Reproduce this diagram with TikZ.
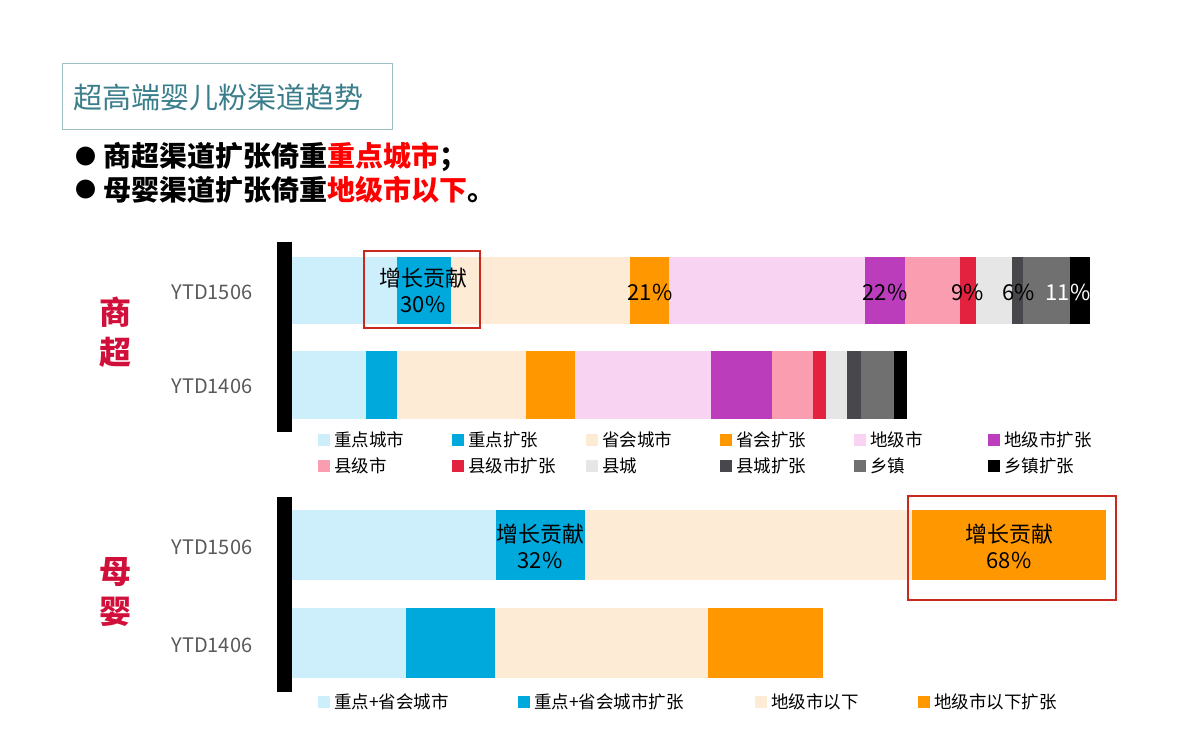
\documentclass[tikz,border=0pt]{standalone}
\usepackage{fontspec}
\setmainfont{Noto Sans CJK SC}
\definecolor{cA}{HTML}{CCEFFB}\definecolor{cB}{HTML}{00A9DC}
\definecolor{cC}{HTML}{FDEBD6}\definecolor{cD}{HTML}{FF9800}
\definecolor{cE}{HTML}{F8D4F2}\definecolor{cF}{HTML}{BB3DBB}
\definecolor{cG}{HTML}{FB9DB1}\definecolor{cH}{HTML}{E2223F}
\definecolor{cI}{HTML}{E6E6E6}\definecolor{cJ}{HTML}{48484C}
\definecolor{cK}{HTML}{707070}\definecolor{cL}{HTML}{000000}
\definecolor{ttl}{HTML}{3A7E8C}\definecolor{crim}{HTML}{D0103A}
\definecolor{boxred}{HTML}{C8281E}
\tikzset{lbl/.style={font=\fontsize{20}{24}\selectfont,text=black!65},
 leg/.style={font=\fontsize{17.5}{20}\selectfont,anchor=west,inner sep=0pt},
 inbar/.style={font=\fontsize{22}{26}\selectfont,align=center,inner sep=0pt},
 hl/.style={draw=boxred,line width=2pt}}
\begin{document}
\begin{tikzpicture}[x=1pt,y=-1pt]
\useasboundingbox (0,0) rectangle (1200,749);
% title
\node[draw=ttl!50,line width=1pt,minimum width=330pt,minimum height=66pt,anchor=north west,inner sep=0pt] (title) at (62,63) {};
\node[anchor=west,text=ttl,font=\fontsize{29}{32}\selectfont] at (70,97) {超高端婴儿粉渠道趋势};
\node[anchor=west,font=\fontsize{21}{24}\selectfont] at (72,157) {●};
\node[anchor=west,font=\fontsize{21}{24}\selectfont] at (72,190) {●};
\node[anchor=west,font=\fontsize{28}{32}\selectfont\bfseries] (b1) at (100,157) {商超渠道扩张倚重\textcolor{red}{重点城市}；};
\node[anchor=west,font=\fontsize{28}{32}\selectfont\bfseries] (b2) at (100,190) {母婴渠道扩张倚重\textcolor{red}{地级市以下}。};
% axes
\fill[black] (277,242) rectangle (292,432);
\fill[black] (277,497) rectangle (292,692);
% top chart
\def\segs#1#2#3{\foreach \c/\a/\b in {#3}{\fill[\c] (\a,#1) rectangle (\b,#2);}}
\segs{257}{324}{cA/292/397,cB/397/451,cC/451/630,cD/630/669,cE/669/865,cF/865/905,cG/905/960,cH/960/976,cI/976/1012,cJ/1012/1023,cK/1023/1070,cL/1070/1090}
\segs{351}{419}{cA/292/366,cB/366/397,cC/397/526,cD/526/575,cE/575/711,cF/711/772,cG/772/813,cH/813/826,cI/826/847,cJ/847/861,cK/861/894,cL/894/907}
\draw[hl] (364,251) rectangle (480,328);
\node[inbar] at (423,290) {增长贡献\\30\%};
\node[inbar] at (650,292) {21\%};
\node[inbar] at (885,292) {22\%};
\node[inbar] at (968,292) {9\%};
\node[inbar] at (1019,292) {6\%};
\node[inbar,text=white] at (1068,292) {11\%};
\node[lbl] at (212,292) {YTD1506};
\node[lbl] at (212,386) {YTD1406};
\node[text=crim,font=\fontsize{32}{40}\selectfont\bfseries,align=center] at (115,332) {商\\超};
% top legend
\foreach \c/\x/\y/\t in {cA/318/440/重点城市,cB/452/440/重点扩张,cC/586/440/省会城市,cD/720/440/省会扩张,cE/854/440/地级市,cF/988/440/地级市扩张,
 cG/318/466/县级市,cH/452/466/县级市扩张,cI/586/466/县城,cJ/720/466/县城扩张,cK/854/466/乡镇,cL/988/466/乡镇扩张}{
 \fill[\c] (\x,\y-6) rectangle (\x+12,\y+6);
 \node[leg] at (\x+16,\y) {\t};}
% bottom chart
\segs{510}{580}{cA/292/496,cB/496/585,cC/585/912,cD/912/1106}
\segs{608}{678}{cA/292/406,cB/406/495,cC/495/708,cD/708/823}
\node[inbar] at (540,546) {增长贡献\\32\%};
\draw[hl] (908,496) rectangle (1116,600);
\node[inbar] at (1009,546) {增长贡献\\68\%};
\node[lbl] at (212,547) {YTD1506};
\node[lbl] at (212,645) {YTD1406};
\node[text=crim,font=\fontsize{32}{40}\selectfont\bfseries,align=center] at (115,592) {母\\婴};
\foreach \c/\x/\t in {cA/318/重点+省会城市,cB/518/重点+省会城市扩张,cC/755/地级市以下,cD/918/地级市以下扩张}{
 \fill[\c] (\x,696) rectangle (\x+12,708);
 \node[leg] at (\x+16,702) {\t};}
\end{tikzpicture}
\end{document}
